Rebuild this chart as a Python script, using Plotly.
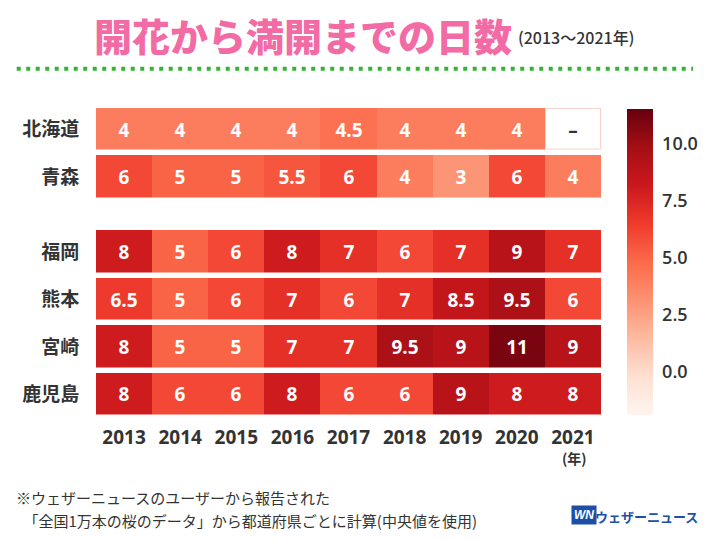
import plotly.graph_objects as go

years = ["2013", "2014", "2015", "2016", "2017", "2018", "2019", "2020", "2021"]
prefs_north = ["北海道", "青森"]
prefs_south = ["福岡", "熊本", "宮崎", "鹿児島"]

hokkaido = [4, 4, 4, 4, 4.5, 4, 4, 4, None]
aomori = [6, 5, 5, 5.5, 6, 4, 3, 6, 4]
fukuoka = [8, 5, 6, 8, 7, 6, 7, 9, 7]
kumamoto = [6.5, 5, 6, 7, 6, 7, 8.5, 9.5, 6]
miyazaki = [8, 5, 5, 7, 7, 9.5, 9, 11, 9]
kagoshima = [8, 6, 6, 8, 6, 6, 9, 8, 8]

missing_label = "–"
colorbar_ticks = [0, 2.5, 5, 7.5, 10]

GAP = 0.585  # spacing between the two groups (in row units)

north_rows = [hokkaido, aomori]
south_rows = [fukuoka, kumamoto, miyazaki, kagoshima]

# Build z with an empty separator row, and y bin edges
z = north_rows + [[None] * len(years)] + south_rows
edges = [0.0]
for _ in north_rows:
    edges.append(edges[-1] + 1)
edges.append(edges[-1] + GAP)
for _ in south_rows:
    edges.append(edges[-1] + 1)

row_labels = prefs_north + [""] + prefs_south
centers = [(edges[i] + edges[i + 1]) / 2 for i in range(len(z))]
tickvals = [c for c, l in zip(centers, row_labels) if l]
ticktext = [l for l in row_labels if l]


def fmt(v):
    if v is None:
        return ""
    return str(int(v)) if float(v).is_integer() else str(v)


text = [[fmt(v) for v in row] for row in z]

# mask for missing cells of real rows
miss_z = [[0 if (v is None and lbl) else None for v in row] for row, lbl in zip(z, row_labels)]
miss_text = [[missing_label if (v is None and lbl) else "" for v in row] for row, lbl in zip(z, row_labels)]

FONT = "Noto Sans CJK JP"

fig = go.Figure()
fig.add_trace(go.Heatmap(
    z=z, x=years, y=edges, text=text, texttemplate="%{text}",
    textfont=dict(family="Open Sans", size=19, color="white", weight="bold"),
    colorscale="Reds", zmin=-1.9, zmax=11.5, xgap=0, ygap=5.5,
    hoverongaps=False,
    colorbar=dict(
        thickness=26, x=1.031, xanchor="left", lenmode="pixels", len=306,
        y=0.5, yanchor="middle", outlinewidth=0, ypad=0,
        ticks="outside", ticklen=6, tickcolor="rgba(0,0,0,0)",
        tickvals=colorbar_ticks, tickformat=".1f",
        tickfont=dict(family="Open Sans", size=18, color="#333333", weight=600),
    ),
))
# border of the missing cell
fig.add_trace(go.Heatmap(
    z=miss_z, x=years, y=edges, colorscale=[[0, "#f6d3cc"], [1, "#f6d3cc"]],
    showscale=False, xgap=0, ygap=5.5, hoverongaps=False,
))
# white interior of the missing cell with dash label
fig.add_trace(go.Heatmap(
    z=miss_z, x=years, y=edges, text=miss_text, texttemplate="%{text}",
    textfont=dict(family="Open Sans", size=19, color="#333333", weight="bold"),
    colorscale=[[0, "white"], [1, "white"]],
    showscale=False, xgap=2, ygap=7.5, hoverongaps=False,
))

L, R, T, B = 96, 108, 106.25, 122.25
fig.update_layout(
    width=720, height=540,
    margin=dict(l=L, r=R, t=T, b=B),
    paper_bgcolor="white", plot_bgcolor="white",
    xaxis=dict(
        showgrid=False, zeroline=False, ticks="outside", ticklen=2, tickcolor="rgba(0,0,0,0)",
        tickfont=dict(family="Open Sans", size=19, color="#333333", weight="bold"),
    ),
    yaxis=dict(
        range=[edges[-1], edges[0]], showgrid=False, zeroline=False,
        tickvals=tickvals, ticktext=ticktext,
        ticks="outside", ticklen=12, tickcolor="rgba(0,0,0,0)",
        tickfont=dict(family=FONT, size=19, color="#333333", weight="bold"),
    ),
    showlegend=False,
)

annotations = [
    dict(text="開花から満開までの日数", x=307, y=35, font=dict(family=FONT, size=38, color="#f36ba5", weight=900)),
    dict(text="(2013～2021年)", x=586, y=37, font=dict(family=FONT, size=16, color="#333333", weight=500)),
    dict(text="(年)", x=585, y=458, font=dict(family=FONT, size=14, color="#333333", weight="bold")),
    dict(text="※ウェザーニュースのユーザーから報告された", x=12, y=497, xanchor="left",
         font=dict(family=FONT, size=15, color="#333333")),
    dict(text="　「全国1万本の桜のデータ」から都道府県ごとに計算(中央値を使用)", x=12, y=520, xanchor="left",
         font=dict(family=FONT, size=15, color="#333333")),
    dict(text="<i><b>WN</b></i>", x=595, y=515, bgcolor="#1d4fa8", borderpad=2,
         font=dict(family="Liberation Sans", size=12, color="white")),
    dict(text="ウェザーニュース", x=658, y=516, font=dict(family=FONT, size=13, color="#1d4fa8", weight="bold")),
]
for a in annotations:
    a.setdefault("xanchor", "center")
    a.update(xref="paper", yref="paper", showarrow=False, yanchor="middle")
    a["x"] = (a["x"] - L) / (720 - L - R)
    a["y"] = 1 - (a["y"] - T) / (540 - T - B)
fig.update_layout(annotations=annotations)

# green dotted separator
fig.add_shape(type="line", xref="paper", yref="paper",
              x0=(15 - L) / (720 - L - R), x1=(706 - L) / (720 - L - R),
              y0=1 - (69 - T) / (540 - T - B), y1=1 - (69 - T) / (540 - T - B),
              line=dict(color="#33b533", width=4, dash="4px,5.5px"))

fig.write_html("out.html", config={"displayModeBar": False},
               post_script="document.body.style.margin='0px';")
